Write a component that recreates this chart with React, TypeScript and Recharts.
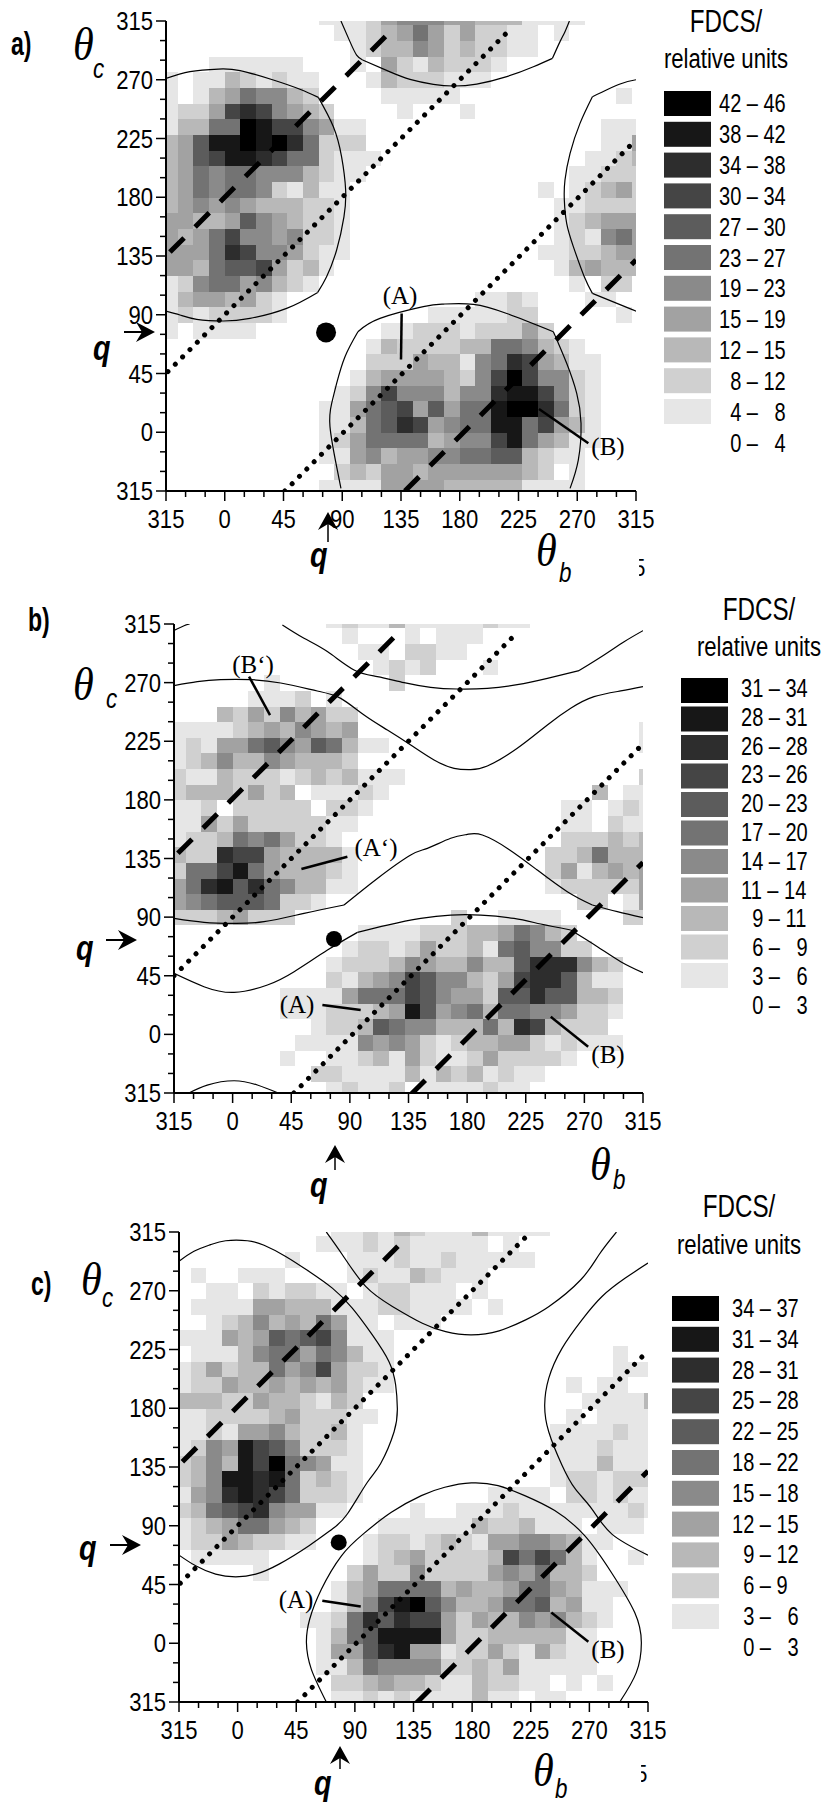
import React from 'react';
import { ScatterChart, Scatter, XAxis, YAxis, ReferenceArea } from 'recharts';

// legend classes per panel, darkest first; the last class is white and has no swatch
const labelsA = ['42 – 46', '38 – 42', '34 – 38', '30 – 34', '27 – 30', '23 – 27', '19 – 23', '15 – 19', '12 – 15', '\u20078 – 12', '\u20074 – \u20078', '\u20070 – \u20074'];
const labelsB = ['31 – 34', '28 – 31', '26 – 28', '23 – 26', '20 – 23', '17 – 20', '14 – 17', '11 – 14', '\u20079 – 11', '\u20076 – \u20079', '\u20073 – \u20076', '\u20070 – \u20073'];
const labelsC = ['34 – 37', '31 – 34', '28 – 31', '25 – 28', '22 – 25', '18 – 22', '15 – 18', '12 – 15', '\u20079 – 12', '\u20076 – 9', '\u20073 – \u20076', '\u20070 – \u20073'];

const grays = ['#ffffff', '#e6e6e6', '#d0d0d0', '#b8b8b8', '#a2a2a2', '#8a8a8a', '#737373', '#5c5c5c', '#454545', '#2d2d2d', '#171717', '#000000'];

// each character is a legend class (0 white ... b black), top row first
const gridA = [
  '0000000000 1112455544 3331111000 0',
  '0000000000 0112346424 2211010000 0',
  '0000000000 0012335423 2211000000 0',
  '0001111110 0010421322 2100000000 0',
  '1011321211 0001322211 1000000000 0',
  '1013465532 0000111110 0000000001 0',
  '1224898543 2000010001 0000000000 0',
  '13366ba885 4110000000 0000000011 1',
  '347aabab96 2220000000 0000000011 4',
  '3478aa9866 2111000000 0000000112 3',
  '3465665553 2110000000 0000001122 2',
  '3465665213 1100000000 0000101234 2',
  '3454543332 2100000000 0000011222 2',
  '4433475432 2100000000 0000012344 4',
  '4346855452 2100000000 0000012156 4',
  '4446985542 1100000000 0000112234 4',
  '4436778423 1000000000 0000013433 3',
  '1256645321 0000000000 0000001022 0',
  '1344342100 0000000000 1121000110 0',
  '1212222100 0000000111 1122000001 0',
  '1011110000 0000112221 2224200000 0',
  '0000000000 0001322223 3665321000 0',
  '0000000000 0002224331 5698431100 0',
  '0000000000 0013444432 58b8552100 0',
  '0000000000 0125855535 59aa852100 0',
  '0000000000 1146784746 6abb962100 0',
  '0000000000 1136798456 6aa6843100 0',
  '0000000000 1246666345 58a6431100 0',
  '0000000000 1145344556 6773211000 0',
  '0000000000 0232443444 4443201000 0',
  '0000000000 1111444433 3331111000 0',
];

const gridB = [
  '0000000000 1211311111 2110000000 0',
  '0000000000 0100010111 0000000000 0',
  '0000000000 0011022110 0000000000 0',
  '0000000000 0001212000 1000000000 0',
  '0000001000 0000200000 0000000000 0',
  '0000011120 1000000000 0000000000 0',
  '0003242534 2200000000 0000000000 0',
  '1111234354 3400000000 0000000000 1',
  '1214467547 6311000000 0000000000 1',
  '1235335433 3200000000 0000000000 0',
  '2113222123 2311100000 0000000000 2',
  '2333242301 1121000000 0000000301 1',
  '1120222220 2210000000 0000011012 1',
  '1142422222 1100000000 0000011021 1',
  '1223656422 1000000000 0000022232 3',
  '3229884333 3100000000 0000223633 3',
  '2668a64333 2100000000 0000241343 4',
  '469a796533 1100000000 0000122222 4',
  '4567776221 0000000000 0000002201 4',
  '2223422200 0000000020 0111100002 2',
  '0000000000 0011112223 3465320000 0',
  '0000000000 0122124223 1675522000 0',
  '0000000000 1222354335 3379995320 0',
  '0000000000 2134587553 2489973110 0',
  '0000000111 1466687544 2779773320 0',
  '0000000111 22234a7456 3665542210 0',
  '0000000001 2237655333 6398322200 0',
  '0000000011 1154542123 3442121110 0',
  '0000000100 1123142112 4222210000 0',
  '0000000002 2111131323 1211000000 0',
  '0000000000 1211201111 2110000000 0',
];

const gridC = [
  '0000000000 1121321113 1111000000 0',
  '0000000001 1121211111 0100000000 0',
  '0000000100 0111211211 1110000000 0',
  '0100111000 0121132111 0000000000 0',
  '0011021221 1012211101 0000000000 0',
  '0111144333 1112211110 1000000000 0',
  '0012353436 4110111000 0000000000 0',
  '1114347678 5111000000 0000000000 0',
  '0111356646 5311000000 0000000010 0',
  '1242336458 4221000000 0000000011 1',
  '1224334343 4211000000 0000010110 0',
  '3332243321 3200000000 0000001111 3',
  '1122223422 2110000000 0000010111 1',
  '1121445322 3100000000 0000111121 1',
  '1254a87522 2100000000 0000111211 1',
  '2353a8b654 1100000000 0000111311 1',
  '235aa9a623 2100000000 0000122122 2',
  '1459a98622 2100000000 1111022121 1',
  '2367895441 1000010011 1211111112 1',
  '1234664320 0001111113 2231110111 0',
  '1224322110 0012212321 4455431100 0',
  '0111110000 0012342222 3868631001 0',
  '0000010000 0242252222 4546332000 0',
  '0000000000 1346666343 3466431110 0',
  '0000000000 1358ab7533 4667341100 0',
  '0000000011 2697988424 3354532100 0',
  '0000000001 367aaaa422 3333311000 0',
  '0000000001 4479a44122 4214211000 0',
  '0000000001 1365555223 2411111000 0',
  '0000000000 2234332113 2211010100 0',
  '0000000000 1121211113 1101100000 0',
];

// contour pieces in degrees (theta_b, theta_c), split at the kinks
const contoursA = [
  [[-45, 271], [-26.6, 276.2], [-4.9, 278.2], [11.7, 277], [37.2, 269.8], [57.6, 262.7], [71.7, 256.5]],
  [[71.7, 256.5], [83.2, 234], [89.5, 211], [92.6, 185.6], [91.3, 165], [85.7, 139.6], [78, 119.1], [71.2, 107.1]],
  [[71.2, 107.1], [47.4, 94.9], [19.3, 87.2], [-1.1, 85.2], [-21.5, 86.5], [-34.3, 89.8], [-45, 92.8]],
  [[89, 315], [95.9, 299.2], [101, 288.9], [105.6, 285.1]],
  [[105.6, 285.1], [126.6, 276], [141.9, 270.3], [159.8, 266.5], [175.1, 265.2], [193, 266.7], [216, 272.4], [236.4, 280], [251, 286.4]],
  [[251, 286.4], [256.8, 299.2], [260.6, 306.8], [264, 315]],
  [[315, 270], [302.8, 266.7], [281.6, 257]],
  [[281.6, 257], [272.1, 236.6], [264.5, 213.6], [260.6, 193.2], [260.1, 177.9], [261.9, 160], [267, 142.2], [275.4, 119.1], [281.6, 106.4]],
  [[281.6, 106.4], [311.7, 94.1], [315, 92.8]],
  [[89, -43], [85.7, -26.4], [80.6, 4.3], [81.9, 22.1], [85.7, 37.4], [92.1, 57.9], [102, 77]],
  [[102, 77], [118.9, 87.2], [152.1, 96.2], [167.4, 98.2], [190.4, 98], [216, 91], [251.7, 77]],
  [[251.7, 77], [261.9, 52.8], [269.6, 29.8], [272.9, 6.8], [270.8, -21.3], [264.5, -43]],
];

const contoursB = [
  [[-45, 310], [-37.3, 313.7], [-33, 315]],
  [[38.2, 314.2], [54.8, 304], [72.7, 293.8], [93.2, 279.7], [111.1, 274.6], [131.6, 270], [152, 266.4], [172.5, 265.1], [195.5, 265.6], [218.5, 268.4], [241.6, 273.3], [265.9, 279.2]],
  [[265.9, 279.2], [285.1, 291.2], [300.5, 301.4], [315, 309.9]],
  [[-45, 267.7], [-27.1, 270.7], [-9.2, 272.3], [13.9, 272.3], [36.9, 269.7], [65, 263.6], [83, 257.9], [100.9, 245.1], [118.8, 233.6], [136.7, 222.1], [154.6, 210.6], [170, 204.2], [182.7, 203.2], [195.5, 206], [218.5, 219.6], [241.6, 237.5], [259.5, 250.3], [277.4, 259.2], [297.9, 263.6], [315, 266.9]],
  [[-45, 89], [-22, 86], [1.1, 85.2], [24.1, 86.5], [54.8, 92.9], [85.5, 99.3]],
  [[85.5, 99.3], [111.1, 119.7], [136.7, 137.7], [149.5, 142.8], [167.4, 150.5], [180.2, 153.5], [191.7, 153], [212.1, 142], [233.9, 126.1], [256.9, 109.5], [276.1, 99.3]],
  [[276.1, 99.3], [295.3, 94.2], [315, 89.6]],
  [[-45, 46.8], [-22, 36.6], [1.1, 32.2], [26.7, 37.9], [47.2, 48.1], [72.8, 64.7], [95.8, 78.3]],
  [[95.8, 78.3], [118.8, 83.9], [144.4, 89], [167.4, 91.6], [190.5, 91.6], [216, 89], [236.5, 84.7], [259.5, 80.1]],
  [[259.5, 80.1], [280, 67.3], [297.9, 55.8], [315, 47.3]],
  [[-33.5, -45], [-19.5, -38.9], [1.1, -35.6], [19, -38.9], [35, -45]],
];

const contoursC = [
  [[-45, 292.5], [-33.5, 300.2], [-20.7, 305.3], [-9.2, 308.3], [7.5, 308.3], [20.3, 304.8], [36.9, 296.3], [54.8, 284.8], [72.7, 272], [88, 256.7], [103.4, 236.2], [116.2, 215.7], [121.3, 197.8], [122.6, 179.9], [120.1, 162], [109.8, 137.7], [99.6, 123.3], [84.2, 99], [72.7, 87.5], [54.8, 74.7], [31.8, 60.6], [13.9, 52.9], [-1.5, 50.9], [-16.9, 52.9], [-32.2, 59.3], [-45, 67.5]],
  [[68.1, 315], [80.4, 297.6], [98.3, 273.3], [118.8, 258], [141.8, 245.1], [159.7, 238.7], [178.9, 236.2], [200.7, 239.3], [221.1, 247.7], [239, 257.9], [263.4, 278.4], [277.4, 297.6], [290.8, 315]],
  [[315, 291.2], [297.6, 279.7], [279.7, 265.6], [264.3, 247.7], [249, 225.9], [238.8, 202.9], [235.7, 182.4], [238.8, 162], [249, 136.4], [259.2, 118.2], [272, 102.8], [287.3, 83.6], [315, 67.5]],
  [[68.1, -45], [56.6, -20], [52.8, 0.5], [55.3, 18.4], [64.3, 41.4], [79.7, 67], [96.3, 83.6], [118, 100.3], [141, 113.1], [159, 119.5], [179.4, 122.8], [199.9, 120.7], [220.4, 113.1], [243.4, 101.6], [266.4, 82.4], [286.9, 54.2], [304.8, 23.5], [309.9, 0.5], [306, -22.5], [293.3, -45]],
];

// kinematic lines [start, end]
const dashedA = [[[-42, 138], [130, 310]], [[138, -45], [315, 132]]];
const dottedA = [[[-43.5, 46.5], [220, 310]], [[46, -45], [315, 224]]];
const dashedB = [[[-42, 139], [128, 309]], [[137, -46], [315, 132]]];
const dottedB = [[[-45, 45], [219, 309]], [[47, -45], [314, 222]]];
const dashedC = [[[-42.4, 139], [128, 309]], [[137, -46], [315, 132]]];
const dottedC = [[[-44, 46], [221, 311]], [[46, -45], [314, 223]]];

const leadersA = [[[135.5, 91], [135, 55.8]], [[240.7, 17.8], [278.5, -8.5]]];
const leadersB = [[[12.6, 274.6], [28.7, 245.1]], [[52.8, 126.9], [88.1, 136.4]], [[68.9, 22.5], [98.3, 18.7]], [[244.2, 13.5], [272.9, -9.5]]];
const leadersC = [[[65, 32.5], [94.5, 28.1]], [[240.8, 23.5], [269.2, 1.2]]];

const beamA = [{ x: 77.6, y: 76.5 }];
const beamB = [{ x: 77.8, y: 73.2 }];
const beamC = [{ x: 77.6, y: 77.2 }];

const axisTicks = [-45, -30, -15, 0, 15, 30, 45, 60, 75, 90, 105, 120, 135, 150, 165, 180, 195, 210, 225, 240, 255, 270, 285, 300, 315];
const colEdges = [-45, ...Array.from({ length: 30 }, (_, i) => -36 + 12 * i), 315];
const rowEdges = [315, ...Array.from({ length: 30 }, (_, i) => 311.6 - 12 * i), -45];

const SANS = "'Liberation Sans', Arial, sans-serif";
const SERIF = "'Liberation Serif', 'Times New Roman', serif";
const TICK_SIZE = 26;
const TICK_SX = 0.85;

const tickLabel = (v: number) => String(v < 0 ? v + 360 : v);

const BottomTick = ({ x, y, payload }: any) => {
  const major = payload.value % 45 === 0;
  return (
    <g>
      <line x1={x} x2={x} y1={y} y2={y + (major ? 10 : 6)} stroke="#000" strokeWidth={1.5} />
      {major && (
        <text transform={`translate(${x},${y + 37}) scale(${TICK_SX},1)`} textAnchor="middle" fontFamily={SANS} fontSize={TICK_SIZE} fill="#000">
          {tickLabel(payload.value)}
        </text>
      )}
    </g>
  );
};

const LeftTick = ({ x, y, payload }: any) => {
  const major = payload.value % 45 === 0;
  return (
    <g>
      <line x1={x - (major ? 10 : 6)} x2={x} y1={y} y2={y} stroke="#000" strokeWidth={1.5} />
      {major && (
        <text transform={`translate(${x - 13},${y + 9}) scale(${TICK_SX},1)`} textAnchor="end" fontFamily={SANS} fontSize={TICK_SIZE} fill="#000">
          {tickLabel(payload.value)}
        </text>
      )}
    </g>
  );
};

const TopTick = ({ x, y }: any) => <line x1={x} x2={x} y1={y} y2={y + 3} stroke="#000" strokeWidth={2} />;
const RightTick = ({ x, y }: any) => <line x1={x - 3} x2={x + 2} y1={y} y2={y} stroke="#000" strokeWidth={1.5} />;

const noMark = () => <g />;
const BeamDot = (r: number) => ({ cx, cy }: any) => <circle cx={cx} cy={cy} r={r} fill="#000" />;
const toPoints = (seg: number[][]) => seg.map(([x, y]) => ({ x, y }));

const Panel = ({ plot, grid, contours, dashed, dotted, leaders, beam, beamR }: any) => {
  const pad = { left: 70, top: 20, right: 30, bottom: 50 };
  const cells: any[] = [];
  grid.forEach((row: string, r: number) => {
    row.replace(/ /g, '').split('').forEach((ch, c) => {
      const level = parseInt(ch, 16);
      if (level > 0) cells.push({ r, c, level });
    });
  });
  return (
    <div style={{ position: 'absolute', left: plot.x - pad.left, top: plot.y - pad.top }}>
      <ScatterChart
        width={plot.w + pad.left + pad.right}
        height={plot.h + pad.top + pad.bottom}
        margin={{ top: pad.top, right: pad.right, left: 0, bottom: 0 }}
      >
        <XAxis type="number" dataKey="x" domain={[-45, 315]} ticks={axisTicks} interval={0} height={pad.bottom} tickSize={0} tickMargin={0} tickLine={false} allowDataOverflow axisLine={{ stroke: '#000', strokeWidth: 2 }} tick={BottomTick} />
        <XAxis xAxisId="top" orientation="top" type="number" dataKey="x" domain={[-45, 315]} ticks={axisTicks} interval={0} height={0} tickSize={0} tickMargin={0} tickLine={false} axisLine={{ stroke: '#000', strokeWidth: 2 }} tick={TopTick} />
        <YAxis type="number" dataKey="y" domain={[-45, 315]} ticks={axisTicks} interval={0} width={pad.left} tickSize={0} tickMargin={0} tickLine={false} allowDataOverflow axisLine={{ stroke: '#000', strokeWidth: 2 }} tick={LeftTick} />
        <YAxis yAxisId="right" orientation="right" type="number" dataKey="y" domain={[-45, 315]} ticks={axisTicks} interval={0} width={0} tickSize={0} tickMargin={0} tickLine={false} axisLine={{ stroke: '#000', strokeWidth: 1.5 }} tick={RightTick} />
        {cells.map(({ r, c, level }) => (
          <ReferenceArea
            key={`${r}-${c}`}
            x1={colEdges[c]}
            x2={colEdges[c + 1]}
            y1={rowEdges[r + 1]}
            y2={rowEdges[r]}
            fill={grays[level]}
            fillOpacity={1}
            stroke="none"
            shapeRendering="crispEdges"
          />
        ))}
        {contours.map((seg: number[][], i: number) => (
          <Scatter key={`c${i}`} data={toPoints(seg)} shape={noMark} line={{ stroke: '#000', strokeWidth: 1.2 }} lineJointType="natural" isAnimationActive={false} />
        ))}
        {dashed.map((seg: number[][], i: number) => (
          <Scatter key={`d${i}`} data={toPoints(seg)} shape={noMark} line={{ stroke: '#000', strokeWidth: 5, strokeDasharray: '20 15.6' }} isAnimationActive={false} />
        ))}
        {dotted.map((seg: number[][], i: number) => (
          <Scatter key={`o${i}`} data={toPoints(seg)} shape={noMark} line={{ stroke: '#000', strokeWidth: 5, strokeLinecap: 'round', strokeDasharray: '0.01 10.36' }} isAnimationActive={false} />
        ))}
        {leaders.map((seg: number[][], i: number) => (
          <Scatter key={`l${i}`} data={toPoints(seg)} shape={noMark} line={{ stroke: '#000', strokeWidth: 2.5 }} isAnimationActive={false} />
        ))}
        <Scatter data={beam} shape={BeamDot(beamR)} isAnimationActive={false} />
      </ScatterChart>
    </div>
  );
};

const T = ({ x, y, size = 24, sx = 1, anchor = 'start', family = SANS, italic = false, bold = false, clipPath, children }: any) => (
  <text
    transform={`translate(${x},${y}) scale(${sx},1)`}
    textAnchor={anchor}
    fontFamily={family}
    fontSize={size}
    fontStyle={italic ? 'italic' : 'normal'}
    fontWeight={bold ? 'bold' : 'normal'}
    fill="#000"
    clipPath={clipPath}
  >
    {children}
  </text>
);

const ArrowRight = ({ x1, x2, y }: any) => (
  <g>
    <line x1={x1} x2={x2 - 8} y1={y} y2={y} stroke="#000" strokeWidth={2} />
    <polygon points={`${x2},${y} ${x2 - 19},${y - 10} ${x2 - 13},${y} ${x2 - 19},${y + 10}`} fill="#000" />
  </g>
);

const ArrowUp = ({ x, y1, y2 }: any) => (
  <g>
    <line x1={x} x2={x} y1={y1} y2={y2 + 8} stroke="#000" strokeWidth={1.5} />
    <polygon points={`${x},${y2} ${x - 10},${y2 + 18} ${x},${y2 + 12} ${x + 10},${y2 + 18}`} fill="#000" />
  </g>
);

const Legend = ({ labels, sw, text, head }: any) => (
  <g>
    <T x={head.x} y={head.y1} size={31} sx={0.78} anchor="middle">FDCS/</T>
    <T x={head.x} y={head.y2} size={28} sx={0.79} anchor="middle">relative units</T>
    {labels.map((label: string, i: number) => (
      <g key={label}>
        {i < 11 && <rect x={sw.x} y={sw.y + i * sw.step} width={47} height={25} fill={grays[11 - i]} />}
        <T x={text.x} y={text.y + i * text.step} size={26} sx={0.77}>{label}</T>
      </g>
    ))}
  </g>
);

const Angle = ({ x, y, subX, subY, sub }: any) => (
  <g>
    <T x={x} y={y} size={46} sx={0.92} family={SERIF} italic>θ</T>
    <T x={subX} y={subY} size={28} sx={0.8} italic>{sub}</T>
  </g>
);

const App = () => (
  <div style={{ position: 'absolute', left: 0, top: 0, width: 834, height: 1813, background: '#fff', overflow: 'hidden' }}>
    <Panel plot={{ x: 166, y: 21, w: 470, h: 470 }} grid={gridA} contours={contoursA} dashed={dashedA} dotted={dottedA} leaders={leadersA} beam={beamA} beamR={10} />
    <Panel plot={{ x: 173.5, y: 624, w: 469, h: 469 }} grid={gridB} contours={contoursB} dashed={dashedB} dotted={dottedB} leaders={leadersB} beam={beamB} beamR={8} />
    <Panel plot={{ x: 178.5, y: 1232, w: 469, h: 470 }} grid={gridC} contours={contoursC} dashed={dashedC} dotted={dottedC} leaders={leadersC} beam={beamC} beamR={8} />
    <svg width={834} height={1813} style={{ position: 'absolute', left: 0, top: 0, pointerEvents: 'none' }}>
      <defs>
        <clipPath id="stray" clipPathUnits="userSpaceOnUse">
          <rect x={6} y={-20} width={10} height={30} />
        </clipPath>
      </defs>
      <Legend labels={labelsA} sw={{ x: 664, y: 91, step: 30.8 }} text={{ x: 719, y: 112, step: 30.9 }} head={{ x: 726, y1: 32, y2: 68 }} />
      <Legend labels={labelsB} sw={{ x: 681, y: 678, step: 28.5 }} text={{ x: 741, y: 697, step: 28.8 }} head={{ x: 759, y1: 620, y2: 656 }} />
      <Legend labels={labelsC} sw={{ x: 672, y: 1296, step: 30.8 }} text={{ x: 732, y: 1317, step: 30.8 }} head={{ x: 739, y1: 1217, y2: 1254 }} />

      <T x={11} y={55} size={34} sx={0.68} bold>a)</T>
      <T x={28} y={631} size={34} sx={0.68} bold>b)</T>
      <T x={31} y={1295} size={34} sx={0.68} bold>c)</T>

      <Angle x={73} y={60} subX={93} subY={78} sub="c" />
      <Angle x={73} y={700} subX={106} subY={708} sub="c" />
      <Angle x={81} y={1295} subX={102} subY={1307} sub="c" />
      <Angle x={536} y={566} subX={559} subY={582} sub="b" />
      <Angle x={590} y={1180} subX={613} subY={1189} sub="b" />
      <Angle x={533} y={1786} subX={555} subY={1798} sub="b" />

      <T x={93} y={360} size={36} sx={0.8} bold italic>q</T>
      <T x={310} y={567} size={36} sx={0.8} bold italic>q</T>
      <T x={76} y={960} size={36} sx={0.8} bold italic>q</T>
      <T x={310} y={1197} size={36} sx={0.8} bold italic>q</T>
      <T x={79} y={1560} size={36} sx={0.8} bold italic>q</T>
      <T x={314} y={1795} size={36} sx={0.8} bold italic>q</T>

      <ArrowRight x1={124} x2={155} y={332} />
      <ArrowRight x1={106} x2={137} y={940} />
      <ArrowRight x1={110} x2={141} y={1545} />
      <ArrowUp x={328} y1={542} y2={512} />
      <ArrowUp x={335} y1={1170} y2={1145} />
      <ArrowUp x={340} y1={1769} y2={1746} />

      <T x={634} y={576} size={24} sx={0.85} clipPath="url(#stray)">5</T>
      <T x={636} y={1782} size={24} sx={0.85} clipPath="url(#stray)">5</T>

      <T x={400} y={304} size={25} family={SERIF} anchor="middle">(A)</T>
      <T x={608} y={455} size={25} family={SERIF} anchor="middle">(B)</T>
      <T x={253} y={673} size={25} family={SERIF} anchor="middle">(B‘)</T>
      <T x={376} y={856} size={25} family={SERIF} anchor="middle">(A‘)</T>
      <T x={297} y={1013} size={25} family={SERIF} anchor="middle">(A)</T>
      <T x={608} y={1063} size={25} family={SERIF} anchor="middle">(B)</T>
      <T x={296} y={1608} size={25} family={SERIF} anchor="middle">(A)</T>
      <T x={608} y={1658} size={25} family={SERIF} anchor="middle">(B)</T>
    </svg>
  </div>
);

export default App;
